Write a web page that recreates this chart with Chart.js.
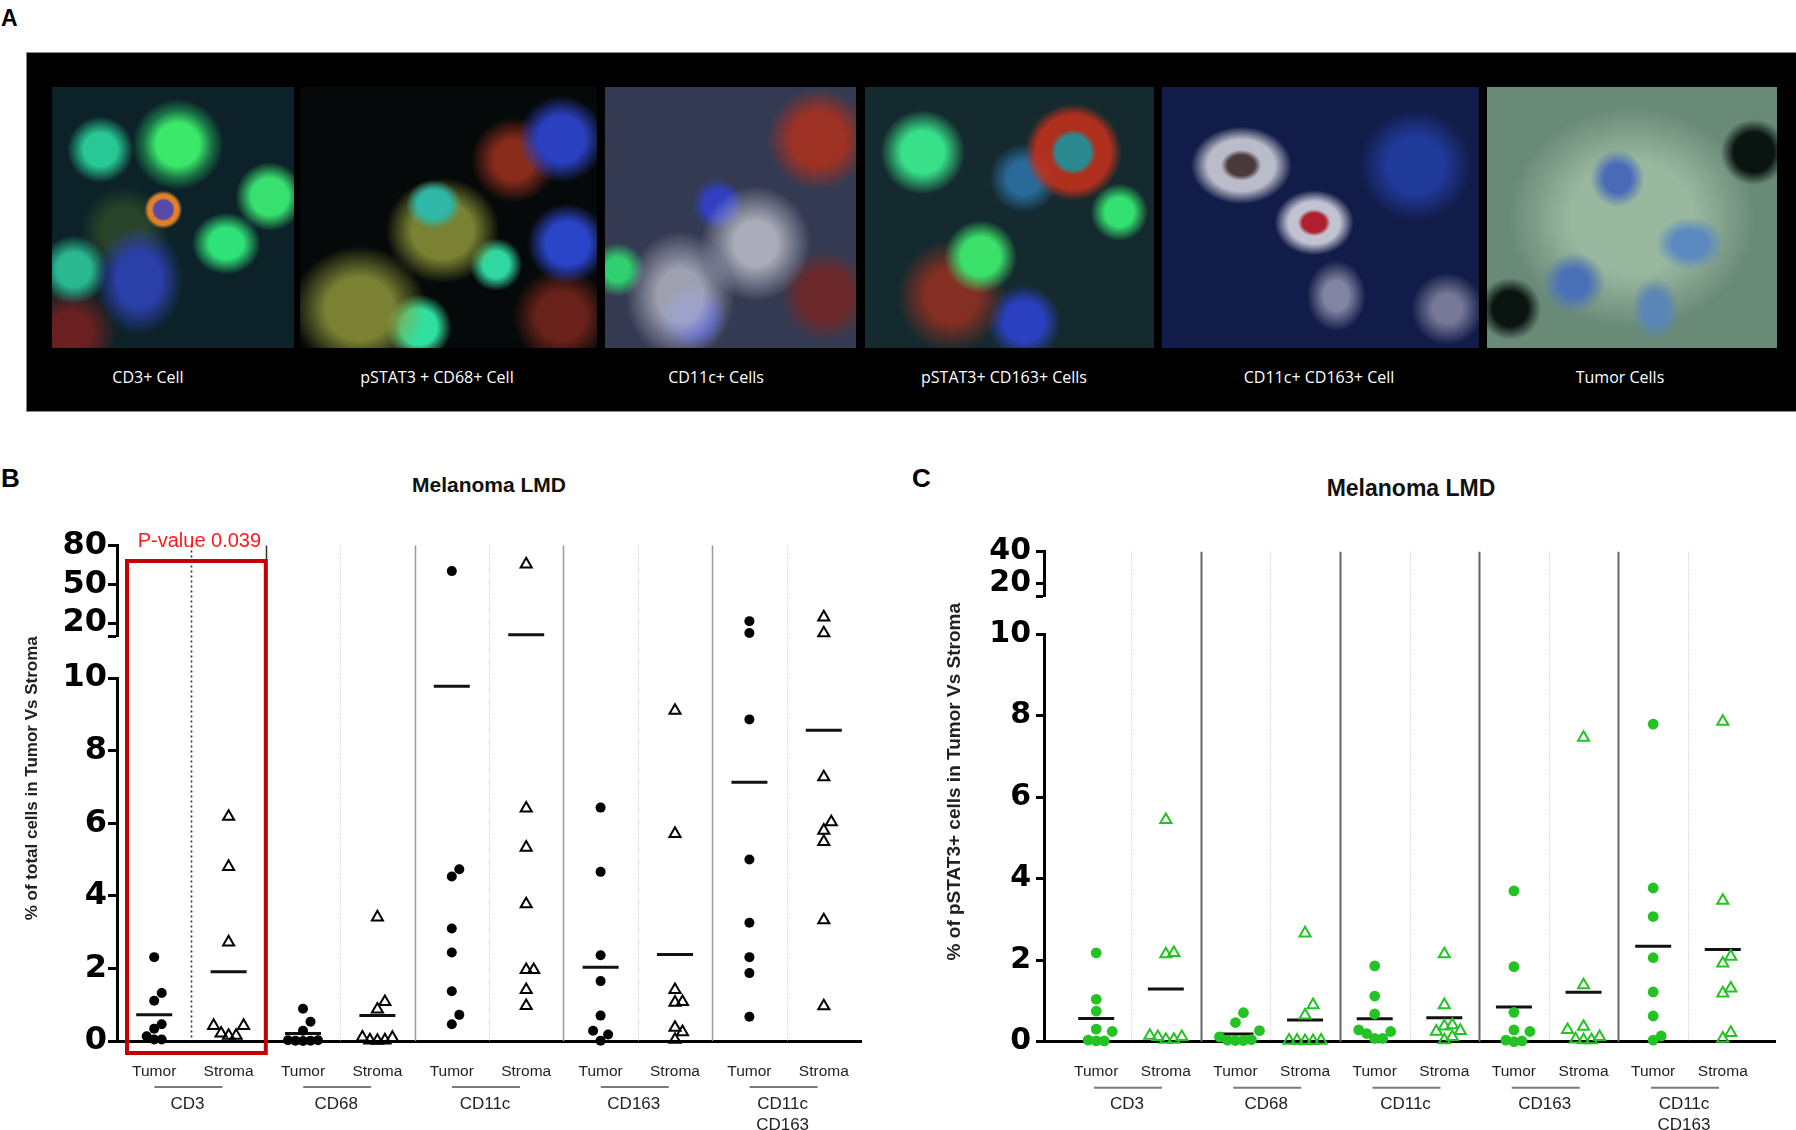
<!DOCTYPE html>
<html>
<head>
<meta charset="utf-8">
<script src="https://cdn.jsdelivr.net/npm/chart.js@4.4.1/dist/chart.umd.min.js"></script>
<style>
  body { margin: 0; width: 1796px; height: 1130px; position: relative; background: #fff; overflow: hidden; font-family: "Liberation Sans", Arial, sans-serif; }
  .letter { position: absolute; font-weight: bold; color: #000; line-height: 1; }
  .title { position: absolute; font-weight: bold; color: #111; line-height: 1; transform: translateX(-50%); white-space: nowrap; }
  #micro { position: absolute; left: 26px; top: 52px; width: 1770px; height: 360px; background: #000; border: 1px solid #888; border-right: none; box-sizing: border-box; }
  .tile { position: absolute; top: 34px; height: 261px; }
  .cap { position: absolute; top: 316px; color: #fff; font-family: "Open Sans", sans-serif; font-size: 16px; line-height: 1; transform: translateX(-50%); white-space: nowrap; }
  canvas { position: absolute; top: 440px; }
</style>
</head>
<body>
<div class="letter" style="left:1px;top:7px;font-size:23px">A</div>
<div id="micro">
  <div class="tile" style="left:25px;width:242px;background:
    radial-gradient(circle at 52% 22%, #3be86a 0 9%, rgba(40,200,100,0.5) 14%, transparent 19%),
    radial-gradient(circle at 90% 42%, #38e070 0 7%, transparent 13%),
    radial-gradient(ellipse at 72% 60%, #2fe278 0 7%, transparent 14%),
    radial-gradient(circle at 20% 24%, #27c893 0 6%, transparent 12%),
    radial-gradient(circle at 46% 47%, #5a4aa8 0 5%, #e0802a 6% 8%, transparent 10%),
    radial-gradient(ellipse at 36% 74%, #2b3fa8 0 10%, transparent 20%),
    radial-gradient(circle at 9% 70%, #2ab890 0 6%, transparent 12%),
    radial-gradient(circle at 8% 94%, #6a2020 0 6%, transparent 14%),
    radial-gradient(circle at 30% 55%, rgba(60,90,40,0.6) 0 10%, transparent 20%),
    #0c2228"></div>
  <div class="tile" style="left:273px;width:297px;background:
    radial-gradient(ellipse at 45% 45%, #2fb8a8 0 7%, transparent 12%),
    radial-gradient(ellipse at 48% 55%, rgba(150,160,60,0.8) 0 14%, transparent 26%),
    radial-gradient(ellipse at 20% 85%, rgba(150,160,60,0.8) 0 10%, transparent 20%),
    radial-gradient(circle at 40% 92%, #30e0a0 0 6%, transparent 11%),
    radial-gradient(circle at 66% 68%, #2fd8a0 0 5%, transparent 10%),
    radial-gradient(circle at 88% 20%, #2a40c0 0 7%, transparent 13%),
    radial-gradient(circle at 90% 60%, #2a44c8 0 7%, transparent 13%),
    radial-gradient(circle at 72% 28%, rgba(160,50,30,0.85) 0 7%, transparent 15%),
    radial-gradient(circle at 88% 88%, rgba(130,40,30,0.8) 0 7%, transparent 14%),
    #060909"></div>
  <div class="tile" style="left:578px;width:251px;background:
    radial-gradient(ellipse at 60% 60%, rgba(200,200,210,0.8) 0 10%, transparent 26%),
    radial-gradient(ellipse at 30% 80%, rgba(185,186,200,0.8) 0 9%, transparent 22%),
    radial-gradient(circle at 45% 45%, #3040c0 0 7%, transparent 13%),
    radial-gradient(circle at 35% 88%, #3040c8 0 6%, transparent 12%),
    radial-gradient(circle at 85% 20%, rgba(176,48,28,0.85) 0 9%, transparent 17%),
    radial-gradient(circle at 88% 80%, rgba(122,36,32,0.8) 0 8%, transparent 15%),
    radial-gradient(circle at 5% 70%, #30d070 0 4%, transparent 9%),
    #343a52"></div>
  <div class="tile" style="left:838px;width:289px;background:
    radial-gradient(circle at 20% 25%, #38e08a 0 7%, transparent 14%),
    radial-gradient(circle at 40% 65%, #3ae06a 0 8%, transparent 15%),
    radial-gradient(circle at 88% 48%, #34e070 0 5%, transparent 10%),
    radial-gradient(circle at 72% 25%, #2a8a90 0 6%, rgba(192,48,28,0.9) 8% 13%, transparent 17%),
    radial-gradient(ellipse at 30% 80%, rgba(160,48,32,0.8) 0 9%, transparent 19%),
    radial-gradient(circle at 55% 90%, #2a40c0 0 7%, transparent 13%),
    radial-gradient(circle at 55% 35%, #2a6a9a 0 7%, transparent 15%),
    #142a2e"></div>
  <div class="tile" style="left:1135px;width:317px;background:
    radial-gradient(ellipse at 25% 30%, #4a3a3a 0 4%, rgba(216,216,224,0.85) 6% 10%, transparent 15%),
    radial-gradient(ellipse at 48% 52%, #b02030 0 5%, rgba(224,224,234,0.85) 7% 11%, transparent 17%),
    radial-gradient(ellipse at 55% 80%, rgba(176,176,200,0.7) 0 5%, transparent 12%),
    radial-gradient(circle at 90% 85%, rgba(160,160,184,0.7) 0 4%, transparent 10%),
    radial-gradient(circle at 80% 30%, #203a9a 0 9%, transparent 18%),
    #121c48"></div>
  <div class="tile" style="left:1460px;width:290px;background:
    radial-gradient(ellipse at 45% 35%, #4a6ab8 0 6%, transparent 12%),
    radial-gradient(ellipse at 70% 60%, #5a8ac0 0 6%, transparent 12%),
    radial-gradient(ellipse at 30% 75%, #4a70b8 0 5%, transparent 11%),
    radial-gradient(ellipse at 58% 85%, #5a86b8 0 5%, transparent 10%),
    radial-gradient(circle at 92% 25%, #0a1410 0 6%, transparent 10%),
    radial-gradient(circle at 8% 85%, #0a1410 0 5%, transparent 9%),
    radial-gradient(ellipse at 50% 50%, #9ab8a0 0 30%, transparent 60%),
    #6a8a78"></div>
  <div class="cap" style="left:121px">CD3+ Cell</div>
  <div class="cap" style="left:410px">pSTAT3 + CD68+ Cell</div>
  <div class="cap" style="left:689px">CD11c+ Cells</div>
  <div class="cap" style="left:977px">pSTAT3+ CD163+ Cells</div>
  <div class="cap" style="left:1292px">CD11c+ CD163+ Cell</div>
  <div class="cap" style="left:1593px">Tumor Cells</div>
</div>

<div class="letter" style="left:1px;top:465px;font-size:26px">B</div>
<div class="title" style="left:489px;top:474px;font-size:21px">Melanoma LMD</div>
<div class="letter" style="left:912px;top:465px;font-size:26px">C</div>
<div class="title" style="left:1411px;top:477px;font-size:23px">Melanoma LMD</div>

<canvas id="chartB" width="900" height="690" style="left:0"></canvas>
<canvas id="chartC" width="896" height="690" style="left:900px"></canvas>

<script>
// x categories, two per marker group
const columnLabels = ['Tumor', 'Stroma', 'Tumor', 'Stroma', 'Tumor', 'Stroma', 'Tumor', 'Stroma', 'Tumor', 'Stroma'];
const groupLabels = [['CD3'], ['CD68'], ['CD11c'], ['CD163'], ['CD11c', 'CD163']];

// panel B: % of total cells (values above 10 sit on the upper segment)
const totalCD3Tumor = [2.31, 1.32, 1.11, 0.46, 0.34, 0.13, 0.04, 0.04];
const totalCD3Stroma = [6.18, 4.80, 2.72, 0.42, 0.42, 0.21, 0.15, 0.15];
const totalCD68Tumor = [0.89, 0.53, 0.28, 0.02, 0.01, 0.00, 0.01, 0.02];
const totalCD68Stroma = [3.41, 1.08, 0.87, 0.10, 0.09, 0.02, 0.01, 0.02];
const totalCD11cTumor = [60.2, 4.73, 4.53, 3.10, 2.44, 1.37, 0.72, 0.46];
const totalCD11cStroma = [65.5, 6.41, 5.33, 3.77, 1.96, 1.96, 1.41, 0.97];
const totalCD163Tumor = [6.43, 4.66, 2.36, 1.65, 0.70, 0.28, 0.18, 0.01];
const totalCD163Stroma = [9.10, 5.71, 1.41, 1.08, 1.06, 0.37, 0.25, 0.04];
const totalDoubleTumor = [21.5, 12.3, 8.86, 5.00, 3.26, 2.31, 1.87, 0.67];
const totalDoubleStroma = [24.5, 12.3, 7.27, 6.03, 5.80, 5.49, 3.33, 0.96];
const totalMeans = [0.72, 1.91, 0.21, 0.70, 9.77, 10.9, 2.03, 2.38, 7.13, 8.56];
const totalLowTicks = [0, 2, 4, 6, 8, 10];
const totalHighTicks = [20, 50, 80];

// panel C: % of pSTAT3+ cells
const pstatCD3Tumor = [2.18, 1.04, 0.75, 0.31, 0.25, 0.04, 0.02, 0.02];
const pstatCD3Stroma = [5.44, 2.18, 2.15, 0.15, 0.12, 0.12, 0.05, 0.05];
const pstatCD68Tumor = [0.71, 0.47, 0.27, 0.12, 0.05, 0.04, 0.03, 0.03];
const pstatCD68Stroma = [2.66, 0.90, 0.65, 0.03, 0.03, 0.03, 0.02, 0.02];
const pstatCD11cTumor = [1.86, 1.12, 0.68, 0.29, 0.25, 0.20, 0.08, 0.08];
const pstatCD11cStroma = [2.15, 0.90, 0.41, 0.38, 0.27, 0.25, 0.12, 0.04];
const pstatCD163Tumor = [3.70, 1.84, 0.72, 0.29, 0.25, 0.04, 0.02, 0.00];
const pstatCD163Stroma = [7.46, 1.39, 0.37, 0.29, 0.12, 0.06, 0.04, 0.04];
const pstatDoubleTumor = [7.79, 3.77, 3.07, 2.06, 1.22, 0.63, 0.14, 0.04];
const pstatDoubleStroma = [7.85, 3.46, 2.09, 1.92, 1.31, 1.19, 0.22, 0.08];
const pstatMeans = [0.57, 1.29, 0.19, 0.53, 0.56, 0.59, 0.85, 1.21, 2.34, 2.26];
const pstatLowTicks = [0, 2, 4, 6, 8, 10];
const pstatHighTicks = [20, 40];

const totalColumns = [totalCD3Tumor, totalCD3Stroma, totalCD68Tumor, totalCD68Stroma, totalCD11cTumor,
  totalCD11cStroma, totalCD163Tumor, totalCD163Stroma, totalDoubleTumor, totalDoubleStroma];
const pstatColumns = [pstatCD3Tumor, pstatCD3Stroma, pstatCD68Tumor, pstatCD68Stroma, pstatCD11cTumor,
  pstatCD11cStroma, pstatCD163Tumor, pstatCD163Stroma, pstatDoubleTumor, pstatDoubleStroma];

const BREAK = 10;
const FONT = '"Liberation Sans", Arial, sans-serif';
const TICK_FONT = '"DejaVu Sans", sans-serif';

function buildDatasets(cols, means, color, dotR) {
  const sets = [];
  [['Tumor', 'circle'], ['Stroma', 'triangle']].forEach(([name, style], kind) => {
    ['low', 'high'].forEach(part => {
      const data = [];
      cols.forEach((vals, ci) => {
        if (ci % 2 !== kind) return;
        vals.forEach(v => { if ((v > BREAK) === (part === 'high')) data.push({x: ci + 0.5, y: v}); });
      });
      sets.push({
        label: name + ' ' + part,
        data: data,
        yAxisID: part === 'high' ? 'yTop' : 'y',
        pointStyle: style,
        pointRadius: style === 'circle' ? dotR : 6.4,
        pointBorderWidth: style === 'circle' ? 0 : 2,
        pointBorderColor: color,
        pointBackgroundColor: style === 'circle' ? color : 'rgba(255,255,255,0)',
        clip: false
      });
    });
  });
  ['low', 'high'].forEach(part => {
    sets.push({
      label: 'Mean ' + part,
      data: means.map((m, ci) => ({x: ci + 0.5, y: m})).filter(p => (p.y > BREAK) === (part === 'high')),
      yAxisID: part === 'high' ? 'yTop' : 'y',
      pointStyle: 'line',
      pointRadius: 18,
      pointBorderWidth: 3,
      pointBorderColor: '#111',
      clip: false
    });
  });
  return sets;
}

// separators, group labels, rotated y title, highlight box
const panelDecor = {
  id: 'panelDecor',
  beforeDatasetsDraw(chart, args, o) {
    const ctx = chart.ctx, xs = chart.scales.x;
    const top = chart.scales.yTop.top, bottom = chart.scales.y.bottom;
    ctx.save();
    for (let i = 1; i < columnLabels.length; i++) {
      const px = Math.round(xs.getPixelForValue(i)) + 0.5;
      const solid = i % 2 === 0;
      const dark = o.darkLines.includes(i);
      ctx.beginPath();
      ctx.setLineDash(solid ? [] : (dark ? [2, 3] : [1, 1.5]));
      ctx.strokeStyle = dark ? '#333' : (solid ? o.solidColor : '#c8c8c8');
      ctx.lineWidth = solid ? o.solidWidth : (dark ? 1.6 : 1);
      ctx.moveTo(px, top);
      ctx.lineTo(px, bottom);
      ctx.stroke();
    }
    ctx.restore();
  },
  afterDatasetsDraw(chart, args, o) {
    const ctx = chart.ctx, xs = chart.scales.x;
    const bottom = chart.chartArea.bottom;
    ctx.save();
    ctx.textAlign = 'center';
    ctx.textBaseline = 'middle';
    ctx.font = '17px ' + FONT;
    groupLabels.forEach((lines, g) => {
      const cx = xs.getPixelForValue(2 * g + 1);
      const ly = bottom + 46;
      ctx.strokeStyle = '#7a7a7a';
      ctx.lineWidth = 2;
      ctx.beginPath();
      ctx.moveTo(cx - 37, ly);
      ctx.lineTo(cx + 31, ly);
      ctx.stroke();
      ctx.fillStyle = '#222';
      lines.forEach((t, li) => ctx.fillText(t, cx - 4, ly + 17 + li * 21));
    });

    ctx.save();
    ctx.translate(o.titleX, (chart.scales.yTop.top + bottom) / 2 + o.titleShift);
    ctx.rotate(-Math.PI / 2);
    ctx.font = 'bold ' + o.titleSize + 'px ' + FONT;
    ctx.fillStyle = '#222';
    ctx.fillText(o.title, 0, 0);
    ctx.restore();

    if (o.box) {
      const l = xs.getPixelForValue(0) + 10, r = xs.getPixelForValue(2);
      const t = chart.scales.yTop.getPixelForValue(68), b = bottom + 12;
      ctx.strokeStyle = '#c40000';
      ctx.lineWidth = 4;
      ctx.strokeRect(l, t, r - l, b - t);
      ctx.fillStyle = '#ff1a1a';
      ctx.font = '20px ' + FONT;
      ctx.fillText(o.box, (l + r) / 2 + 3, chart.scales.yTop.top - 4);
    }
    ctx.restore();
  }
};

// nudge overlapping points sideways, like a column scatter plot
function spreadPoints(chart, step, rowGap) {
  const xs = chart.scales.x;
  const colW = xs.getPixelForValue(1) - xs.getPixelForValue(0);
  const cols = {};
  chart.data.datasets.forEach(ds => {
    if (ds.label.startsWith('Mean')) return;
    const ys = chart.scales[ds.yAxisID];
    ds.data.forEach(p => {
      const c = Math.floor(p.x);
      (cols[c] = cols[c] || []).push({p: p, py: ys.getPixelForValue(p.y)});
    });
  });
  Object.keys(cols).forEach(c => {
    const placed = [];
    cols[c].sort((a, b) => b.py - a.py).forEach(r => {
      for (let k = 0; k < 20; k++) {
        const dx = (k % 2 ? 1 : -1) * Math.ceil(k / 2) * step;
        const clash = placed.some(q => Math.abs(q.dx - dx) < step - 0.01 && Math.abs(q.py - r.py) < rowGap);
        if (!clash) {
          placed.push({dx: dx, py: r.py});
          r.p.x = Number(c) + 0.5 + dx / colW;
          break;
        }
      }
    });
  });
  chart.update('none');
}

function makeChart(id, cfg) {
  const yWidth = s => { s.width = 60; };
  const chart = new Chart(document.getElementById(id), {
    type: 'scatter',
    data: {datasets: buildDatasets(cfg.columns, cfg.means, cfg.color, cfg.dotR)},
    options: {
      responsive: false,
      animation: false,
      devicePixelRatio: 1,
      events: [],
      layout: {padding: cfg.padding},
      plugins: {
        legend: {display: false},
        tooltip: {enabled: false},
        panelDecor: cfg.decor
      },
      scales: {
        x: {
          type: 'linear',
          min: cfg.xMin,
          max: cfg.xMax,
          afterBuildTicks: s => { s.ticks = columnLabels.map((l, i) => ({value: i + 0.5})); },
          afterFit: s => { s.height = 80; },
          ticks: {
            autoSkip: false,
            maxRotation: 0,
            padding: 13,
            color: '#222',
            font: {family: FONT, size: 15.5},
            callback: v => columnLabels[Math.floor(v)]
          },
          grid: {display: false},
          border: {color: '#000', width: 3}
        },
        y: {
          type: 'linear', axis: 'y', position: 'left', stack: 'v', stackWeight: cfg.weights[2], weight: 1,
          min: 0, max: BREAK,
          afterBuildTicks: s => { s.ticks = cfg.lowTicks.map(v => ({value: v})); },
          afterFit: yWidth,
          ticks: {autoSkip: false, color: '#000', padding: cfg.tickPad, font: {family: TICK_FONT, size: cfg.lowSize, weight: 'bold'}},
          grid: {drawOnChartArea: false, tickLength: cfg.tickLen, tickWidth: 3, tickColor: '#000'},
          border: {color: '#000', width: 3}
        },
        gap: {
          type: 'linear', axis: 'y', position: 'left', stack: 'v', stackWeight: cfg.weights[1], weight: 2,
          afterFit: yWidth,
          ticks: {display: false},
          grid: {display: false},
          border: {display: false}
        },
        yTop: {
          type: 'linear', axis: 'y', position: 'left', stack: 'v', stackWeight: cfg.weights[0], weight: 3,
          min: cfg.highMin, max: cfg.highTicks[cfg.highTicks.length - 1],
          afterBuildTicks: s => { s.ticks = [cfg.highMin].concat(cfg.highTicks).map(v => ({value: v})); },
          afterFit: yWidth,
          ticks: {autoSkip: false, color: '#000', padding: cfg.tickPad, font: {family: TICK_FONT, size: cfg.highSize, weight: 'bold'},
            callback: v => (v === cfg.highMin ? '' : v)},
          grid: {drawOnChartArea: false, tickLength: cfg.tickLen, tickWidth: 3, tickColor: '#000'},
          border: {color: '#000', width: 3}
        }
      }
    },
    plugins: [panelDecor]
  });
  spreadPoints(chart, cfg.step, cfg.rowGap);
  return chart;
}

makeChart('chartB', {
  columns: totalColumns, means: totalMeans, color: '#000', dotR: 5,
  lowTicks: totalLowTicks, highTicks: totalHighTicks, highMin: 10,
  lowSize: 32, highSize: 32, tickLen: 9, tickPad: 1,
  xMin: 0, xMax: 10,
  weights: [90.5, 42, 363],
  padding: {left: 57, right: 39, top: 105.5, bottom: 9},
  step: 7.5, rowGap: 10,
  decor: {title: '% of total cells in Tumor Vs Stroma', titleX: 32, titleShift: -15, titleSize: 17,
    solidColor: '#9a9a9a', solidWidth: 1.5, darkLines: [1, 2], box: 'P-value 0.039'}
});

makeChart('chartC', {
  columns: pstatColumns, means: pstatMeans, color: '#22c322', dotR: 5.4,
  lowTicks: pstatLowTicks, highTicks: pstatHighTicks, highMin: 11.5,
  lowSize: 30, highSize: 30, tickLen: 8, tickPad: 5,
  xMin: -0.25, xMax: 10.25,
  weights: [45, 37.3, 407.7],
  padding: {left: 84, right: 15, top: 111.7, bottom: 8.3},
  step: 8, rowGap: 10.5,
  decor: {title: '% of pSTAT3+ cells in Tumor Vs Stroma', titleX: 55, titleShift: -15, titleSize: 19,
    solidColor: '#666', solidWidth: 2, darkLines: [], box: null}
});
</script>
</body>
</html>
